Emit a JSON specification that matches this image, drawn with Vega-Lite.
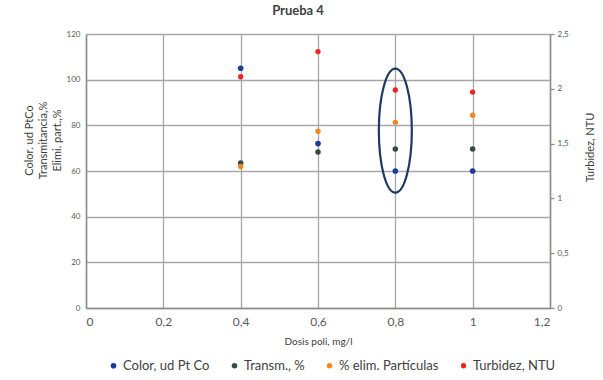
{
  "$schema": "https://vega.github.io/schema/vega-lite/v6.json",
  "width": 464,
  "height": 274,
  "autosize": {"type": "none"},
  "padding": {"left": 86, "top": 34, "right": 53, "bottom": 72},
  "background": "white",
  "config": {
    "font": "Lato",
    "view": {"stroke": null},
    "axis": {
      "domainColor": "#8c8c8c",
      "domainWidth": 1.5,
      "gridColor": "#a6a6a6",
      "gridWidth": 1.3,
      "labelColor": "#595959",
      "titleColor": "#404040",
      "labelFont": "Lato",
      "titleFont": "Lato"
    }
  },
  "title": {
    "text": "Prueba 4",
    "fontSize": 13,
    "fontWeight": "bold",
    "color": "#404040",
    "anchor": "middle",
    "dx": -20,
    "offset": 12
  },
  "datasets": {
    "medidas": [
      {"dosis": 0.4, "serie": "Color, ud Pt Co", "valor": 105},
      {"dosis": 0.4, "serie": "Transm., %", "valor": 63.5},
      {"dosis": 0.4, "serie": "% elim. Partículas", "valor": 62},
      {"dosis": 0.6, "serie": "Color, ud Pt Co", "valor": 72},
      {"dosis": 0.6, "serie": "Transm., %", "valor": 68.3},
      {"dosis": 0.6, "serie": "% elim. Partículas", "valor": 77.4},
      {"dosis": 0.8, "serie": "Color, ud Pt Co", "valor": 60},
      {"dosis": 0.8, "serie": "Transm., %", "valor": 69.6},
      {"dosis": 0.8, "serie": "% elim. Partículas", "valor": 81.3},
      {"dosis": 1.0, "serie": "Color, ud Pt Co", "valor": 60},
      {"dosis": 1.0, "serie": "Transm., %", "valor": 69.6},
      {"dosis": 1.0, "serie": "% elim. Partículas", "valor": 84.4}
    ],
    "turbidez": [
      {"dosis": 0.4, "serie": "Turbidez, NTU", "valor": 2.11},
      {"dosis": 0.6, "serie": "Turbidez, NTU", "valor": 2.34},
      {"dosis": 0.8, "serie": "Turbidez, NTU", "valor": 1.99},
      {"dosis": 1.0, "serie": "Turbidez, NTU", "valor": 1.97}
    ],
    "resaltado": [
      {"dosis": 0.8, "valor": 77.7}
    ]
  },
  "layer": [
    {
      "layer": [
        {
          "data": {"name": "medidas"},
          "mark": {"type": "point", "filled": true, "opacity": 1, "shape": "circle"},
          "encoding": {
            "x": {
              "field": "dosis",
              "type": "quantitative",
              "scale": {"domain": [0, 1.2], "nice": false, "zero": true},
              "axis": {
                "values": [0, 0.2, 0.4, 0.6, 0.8, 1.0, 1.2],
                "labelExpr": "replace(format(datum.value, '.1~f'), '.', ',')",
                "title": "Dosis poli, mg/l",
                "labelFontSize": 12,
                "labelPadding": 8,
                "ticks": false,
                "titleFontSize": 10,
                "titleFontWeight": "normal",
                "titlePadding": 9,
                "grid": true
              }
            },
            "y": {
              "field": "valor",
              "type": "quantitative",
              "scale": {"domain": [0, 120], "nice": false},
              "axis": {
                "values": [0, 20, 40, 60, 80, 100, 120],
                "ticks": false,
                "labelFontSize": 8,
                "labelPadding": 6,
                "grid": true,
                "title": ["Color. ud PtCo", "Transmitancia,%", "Elimi. part.,%"],
                "titleFontSize": 11,
                "titleFontWeight": "normal",
                "titleAngle": -90,
                "titleLineHeight": 14,
                "titleAlign": "center",
                "titleBaseline": "middle",
                "titleX": -57,
                "titleY": 106
              }
            },
            "color": {
              "field": "serie",
              "type": "nominal",
              "scale": {
                "domain": ["Color, ud Pt Co", "Transm., %", "% elim. Partículas", "Turbidez, NTU"],
                "range": ["#1c3aa0", "#384944", "#f7861f", "#ee2222"]
              },
              "legend": {
                "orient": "none",
                "legendX": 21,
                "legendY": 325,
                "direction": "horizontal",
                "title": null,
                "symbolType": "circle",
                "symbolSize": 22,
                "symbolStrokeWidth": 0,
                "labelFontSize": 13,
                "labelColor": "#404040",
                "labelFont": "Lato",
                "columnPadding": 18,
                "symbolOffset": 0,
                "labelOffset": 3
              }
            },
            "size": {
              "field": "serie",
              "type": "nominal",
              "scale": {
                "domain": ["Color, ud Pt Co", "Transm., %", "% elim. Partículas", "Turbidez, NTU"],
                "range": [32, 28, 18, 38]
              },
              "legend": null
            }
          }
        },
        {
          "data": {"name": "resaltado"},
          "mark": {
            "type": "point",
            "filled": false,
            "shape": "M 0,-1 C 0.147,-1 0.266,-0.552 0.266,0 C 0.266,0.552 0.147,1 0,1 C -0.147,1 -0.266,0.552 -0.266,0 C -0.266,-0.552 -0.147,-1 0,-1 Z",
            "size": 15376,
            "stroke": "#1f3864",
            "strokeWidth": 2.2,
            "opacity": 1
          },
          "encoding": {
            "x": {"field": "dosis", "type": "quantitative"},
            "y": {"field": "valor", "type": "quantitative"}
          }
        }
      ]
    },
    {
      "data": {"name": "turbidez"},
      "mark": {"type": "point", "filled": true, "opacity": 1, "shape": "circle"},
      "encoding": {
        "x": {"field": "dosis", "type": "quantitative"},
        "y": {
          "field": "valor",
          "type": "quantitative",
          "scale": {"domain": [0, 2.5], "nice": false},
          "axis": {
            "orient": "right",
            "values": [0, 0.5, 1, 1.5, 2, 2.5],
            "labelExpr": "replace(format(datum.value, '.1~f'), '.', ',')",
            "grid": false,
            "ticks": true,
            "tickSize": 4,
            "tickColor": "#8c8c8c",
            "tickWidth": 1.3,
            "labelFontSize": 8,
            "labelPadding": 3,
            "title": "Turbidez, NTU",
            "titleFontSize": 11,
            "titleFontWeight": "normal",
            "titleAngle": -90,
            "titleAlign": "center",
            "titleBaseline": "middle",
            "titleX": 40,
            "titleY": 113
          }
        },
        "color": {"field": "serie", "type": "nominal"},
        "size": {"field": "serie", "type": "nominal", "legend": null}
      }
    }
  ],
  "resolve": {"scale": {"y": "independent"}, "axis": {"y": "independent"}}
}
